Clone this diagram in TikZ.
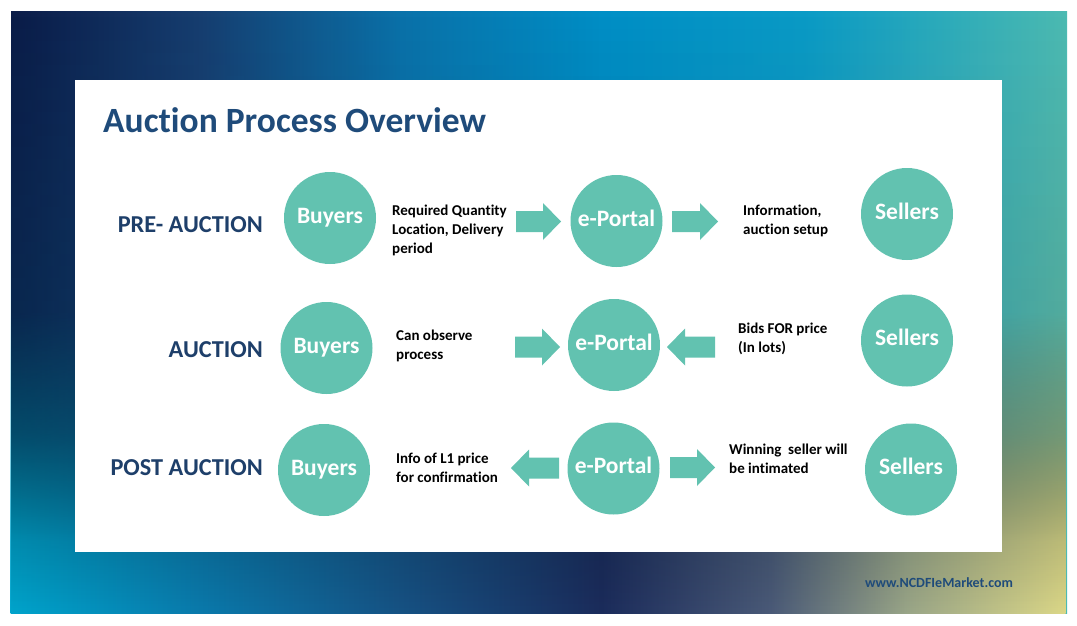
\documentclass[tikz,border=0pt]{standalone}
\usepackage{fontspec}
\setmainfont{Carlito}[Ligatures=NoCommon]
\usetikzlibrary{fadings}
\definecolor{circ}{HTML}{62C2B0}
\definecolor{titleblue}{HTML}{1F4B7A}
\definecolor{labelblue}{HTML}{1E3F6A}
\definecolor{tA}{HTML}{0B1C48}
\definecolor{tB}{HTML}{173E70}
\definecolor{tC}{HTML}{0A72AA}
\definecolor{tD}{HTML}{008FC6}
\definecolor{tE}{HTML}{0A9BC6}
\definecolor{tF}{HTML}{4CBAB2}
\definecolor{bA}{HTML}{00A4CC}
\definecolor{bB}{HTML}{0A7AAC}
\definecolor{bC}{HTML}{165284}
\definecolor{bD}{HTML}{1B2C5C}
\definecolor{bE}{HTML}{4A5A78}
\definecolor{bF}{HTML}{9AA688}
\definecolor{bG}{HTML}{DCD888}
\definecolor{fW}{gray}{1}
\definecolor{fA}{gray}{0.85}
\definecolor{fB}{gray}{0.4}
\definecolor{fC}{gray}{0.1}
\definecolor{fK}{gray}{0}
\pgfdeclarehorizontalshading{topshade}{100bp}{color(0bp)=(tA); color(25bp)=(tA); color(34bp)=(tB); color(43.5bp)=(tC); color(53bp)=(tD); color(62.5bp)=(tE); color(75bp)=(tF); color(100bp)=(tF)}
\pgfdeclarehorizontalshading{botshade}{100bp}{color(0bp)=(bA); color(25bp)=(bA); color(34bp)=(bB); color(43.5bp)=(bC); color(53bp)=(bD); color(61bp)=(bE); color(67.5bp)=(bF); color(75bp)=(bG); color(100bp)=(bG)}
\pgfdeclareverticalshading{fadeshade}{100bp}{color(0bp)=(fW); color(25bp)=(fW); color(31bp)=(fA); color(40bp)=(fB); color(50bp)=(fC); color(75bp)=(fK); color(100bp)=(fK)}
\tikzfading[name=lowfade, shading=fadeshade]
\newcommand\rarrowshape[3]{\fill[circ] (#1,{#3-10.5}) -- ({#2-18},{#3-10.5}) -- ({#2-18},{#3-18.5}) -- (#2,#3) -- ({#2-18},{#3+18.5}) -- ({#2-18},{#3+10.5}) -- (#1,{#3+10.5}) -- cycle;}
\newcommand\larrowshape[3]{\fill[circ] (#2,{#3-10.5}) -- ({#1+18},{#3-10.5}) -- ({#1+18},{#3-18.5}) -- (#1,#3) -- ({#1+18},{#3+18.5}) -- ({#1+18},{#3+10.5}) -- (#2,{#3+10.5}) -- cycle;}
\tikzset{
  circnode/.style={circle, fill=circ, minimum size=92pt, inner sep=0pt, text=white,
    font=\fontsize{23.5}{27}\selectfont\bfseries, text height=15pt, text depth=5pt},
  rowlabel/.style={anchor=base east, inner sep=0pt, text=labelblue, font=\fontsize{24.3}{28}\selectfont\bfseries},
  info/.style={anchor=base west, inner sep=0pt, align=left, text=black, font=\fontsize{15}{19}\selectfont\bfseries}
}
\begin{document}
\begin{tikzpicture}[x=1pt,y=-1pt]
\useasboundingbox (0,0) rectangle (1077,626);
\fill[white] (0,0) rectangle (1077,626);
\fill[shading=topshade] (11,12) rectangle (1067,613);
\fill[shading=botshade, path fading=lowfade] (11,12) rectangle (1067,613);
\fill[white] (75,80) rectangle (1002,552);
% title
\node[anchor=base west, inner sep=0pt, text=titleblue, font=\fontsize{35.5}{40}\selectfont\bfseries] (title) at (103,132) {Auction Process Overview};
% row labels
\node[rowlabel] (l1) at (263,232) {PRE- AUCTION};
\node[rowlabel] (l2) at (263,357) {AUCTION};
\node[rowlabel] (l3) at (263,475) {POST AUCTION};
% circles
\node[circnode] (b1) at (330,218) {Buyers};
\node[circnode] (b2) at (326.5,348) {Buyers};
\node[circnode] (b3) at (324,470) {Buyers};
\node[circnode] (p1) at (616.5,221) {e-Portal};
\node[circnode] (p2) at (614,345) {e-Portal};
\node[circnode] (p3) at (613.5,468.5) {e-Portal};
\node[circnode] (s1) at (907,214) {Sellers};
\node[circnode] (s2) at (907,340.5) {Sellers};
\node[circnode] (s3) at (911,469.5) {Sellers};
% info texts (base = last line)
\node[info] (i1) at (392,253.5) {Required Quantity\\Location, Delivery\\period};
\node[info] (i2) at (743,234.5) {Information,\\auction setup};
\node[info] (i3) at (396,359.5) {Can observe\\process};
\node[info] (i4) at (738,352) {Bids FOR price\\(In lots)};
\node[info] (i5) at (396,482.5) {Info of L1 price\\for confirmation};
\node[info] (i6) at (729,473) {Winning\ \ seller will\\be intimated};
% block arrows
\rarrowshape{516}{561}{221.5}
\rarrowshape{672}{718}{221.5}
\rarrowshape{515}{560}{347}
\larrowshape{667}{715}{347}
\larrowshape{511}{559}{468}
\rarrowshape{670}{715}{467.5}
% website
\node[anchor=base west, inner sep=0pt, text=titleblue, font=\fontsize{14}{16}\selectfont\bfseries] (web) at (865,587) {www.NCDFIeMarket.com};
\end{tikzpicture}
\end{document}
